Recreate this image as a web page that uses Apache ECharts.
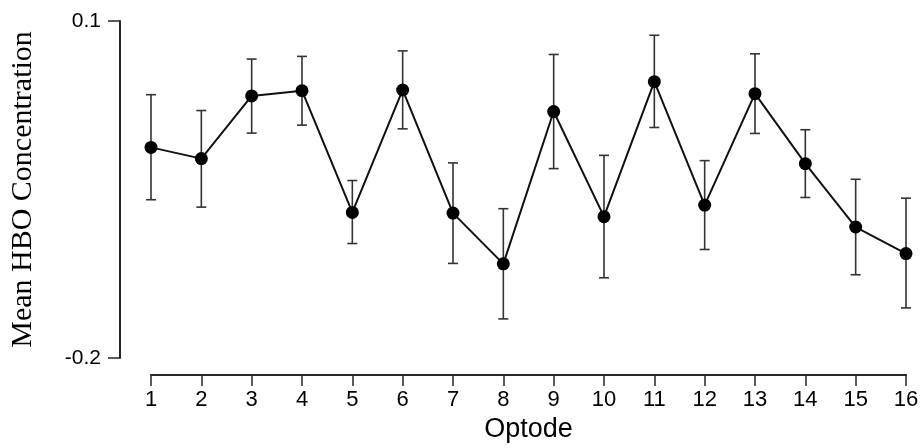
<!DOCTYPE html>
<html>
<head>
<meta charset="utf-8">
<script src="https://cdn.jsdelivr.net/npm/echarts@6/dist/echarts.min.js"></script>
<style>html,body{margin:0;padding:0;background:#fff}#c{width:924px;height:448px}</style>
</head>
<body>
<div id="c"></div>
<script>
const optodes = [1,2,3,4,5,6,7,8,9,10,11,12,13,14,15,16];
const meanHBO = [-0.0125,-0.0225,0.0333,0.0380,-0.0704,0.0386,-0.0710,-0.1162,0.0194,-0.0742,0.0460,-0.0639,0.0353,-0.0270,-0.0834,-0.1070];
const errLow  = [-0.0591,-0.0657,0.0002,0.0073,-0.0981,0.0040,-0.1158,-0.1652,-0.0314,-0.1286,0.0052,-0.1034,-0.0001,-0.0571,-0.1259,-0.1554];
const errHigh = [0.0344,0.0203,0.0661,0.0685,-0.0420,0.0734,-0.0263,-0.0671,0.0702,-0.0196,0.0873,-0.0243,0.0708,0.0032,-0.0409,-0.0577];
const yTicks = [-0.2, 0.1];

const chart = echarts.init(document.getElementById('c'), null, {renderer:'canvas'});
const lineData = optodes.map((o,i)=>[o, meanHBO[i]]);
const errData = optodes.map((o,i)=>[o, errLow[i], errHigh[i]]);
const axisCol = '#262626';
chart.setOption({
  animation:false,
  backgroundColor:'#ffffff',
  grid:{left:150, right:18, top:21, bottom:89},
  xAxis:{
    type:'value', min:1, max:16, interval:1, offset:17,
    name:'Optode', nameLocation:'middle', nameGap:41,
    nameTextStyle:{fontFamily:'Liberation Sans', fontSize:27, color:'#000'},
    axisLine:{show:true, onZero:false, lineStyle:{color:axisCol, width:2}},
    axisTick:{show:true, length:11, lineStyle:{color:axisCol, width:1.5}},
    axisLabel:{fontFamily:'Liberation Sans', fontSize:22, color:'#000', margin:14},
    splitLine:{show:false}
  },
  yAxis:{
    type:'value', min:yTicks[0], max:yTicks[1], interval:0.3, offset:31,
    name:'Mean HBO Concentration', nameLocation:'middle', nameGap:82,
    nameTextStyle:{fontFamily:'Liberation Serif', fontSize:30, color:'#000'},
    axisLine:{show:true, onZero:false, lineStyle:{color:axisCol, width:2}},
    axisTick:{show:true, length:12, lineStyle:{color:axisCol, width:1.5}},
    axisLabel:{fontFamily:'Liberation Sans', fontSize:21, color:'#000', margin:19,
      formatter:v=>String(Math.round(v*10)/10)},
    splitLine:{show:false}
  },
  series:[
    {
      type:'custom',
      data:errData,
      z:1,
      renderItem:function(params, api){
        const x = api.value(0);
        const lo = api.coord([x, api.value(1)]);
        const hi = api.coord([x, api.value(2)]);
        const w = 5;
        const st = {stroke:'#333', lineWidth:1.6};
        return {type:'group', children:[
          {type:'line', shape:{x1:lo[0], y1:lo[1], x2:hi[0], y2:hi[1]}, style:st},
          {type:'line', shape:{x1:lo[0]-w, y1:lo[1], x2:lo[0]+w, y2:lo[1]}, style:st},
          {type:'line', shape:{x1:hi[0]-w, y1:hi[1], x2:hi[0]+w, y2:hi[1]}, style:st}
        ]};
      }
    },
    {
      type:'line',
      data:lineData,
      z:2,
      symbol:'circle', symbolSize:13,
      lineStyle:{color:'#111', width:2},
      itemStyle:{color:'#000'}
    }
  ]
});
</script>
</body>
</html>
